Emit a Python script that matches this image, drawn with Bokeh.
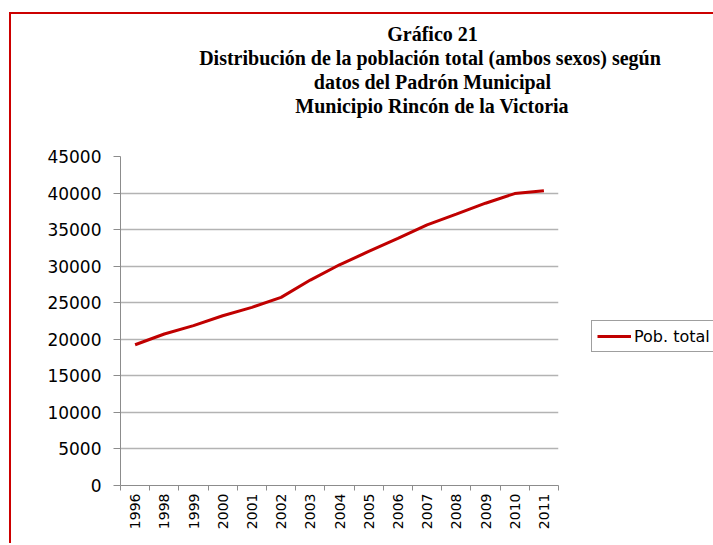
import numpy as np
from bokeh.plotting import figure
from bokeh.models import (Range1d, FixedTicker, Legend, LegendItem, Title, ColumnDataSource)
from bokeh.embed import file_html
from bokeh.resources import INLINE

years = ["1996", "1998", "1999", "2000", "2001", "2002", "2003", "2004",
         "2005", "2006", "2007", "2008", "2009", "2010", "2011"]
population = [19250, 20720, 21860, 23220, 24370, 25730, 28100, 30190,
              32010, 33790, 35650, 37110, 38610, 39930, 40300]
y_ticks = [0, 5000, 10000, 15000, 20000, 25000, 30000, 35000, 40000, 45000]
title_lines = ["Gráfico 21",
               "Distribución de la población total  (ambos sexos) según",
               "datos del Padrón Municipal",
               "Municipio Rincón de la Victoria"]
series_name = "Pob. total"

GRID = "#b3b3b3"
AXIS = "#8c8c8c"

# Times/Liberation Serif Bold advance widths (per 1000 em) for centering title lines
TB = {" ": 250, "(": 333, ")": 333, "1": 500, "2": 500, "D": 722, "G": 778, "M": 944,
      "P": 611, "R": 722, "V": 722, "a": 500, "á": 500, "b": 556, "c": 444, "d": 556,
      "e": 444, "f": 333, "g": 500, "i": 278, "l": 278, "m": 833, "n": 556, "o": 500,
      "ó": 500, "p": 556, "r": 444, "s": 389, "t": 333, "u": 556, "ú": 556, "x": 500}
TITLE_SIZE = 20
TITLE_CENTER = 312  # from frame left, px

n = len(years)
xs = [i + 0.5 for i in range(n)]
source = ColumnDataSource(dict(x=xs, y=population))

p = figure(frame_width=438, frame_height=329,
           min_border_left=109, min_border_top=142,
           min_border_right=153, min_border_bottom=58,
           output_backend="svg", toolbar_location=None,
           x_range=Range1d(0, n), y_range=Range1d(0, 45000))
p.styles = {"border-top": "2px solid #cc0000", "border-left": "2px solid #cc0000",
            "margin-top": "12px", "margin-left": "9px"}
p.outline_line_color = None
p.background_fill_color = "white"
p.border_fill_color = "white"

r = p.line("x", "y", source=source, line_color="#c00000", line_width=3)

# y axis
p.yaxis.ticker = FixedTicker(ticks=y_ticks)
p.yaxis.axis_line_color = AXIS
p.yaxis.major_tick_line_color = AXIS
p.yaxis.major_tick_in = 0
p.yaxis.major_tick_out = 7
p.yaxis.minor_tick_line_color = None
p.yaxis.major_label_text_font = "DejaVu Sans"
p.yaxis.major_label_text_font_size = "17px"
p.yaxis.major_label_text_color = "#000000"
p.yaxis.major_label_standoff = 12

# x axis
p.xaxis.ticker = FixedTicker(ticks=xs, minor_ticks=list(range(n + 1)))
p.xaxis.major_label_overrides = {x: y for x, y in zip(xs, years)}
p.xaxis.axis_line_color = AXIS
p.xaxis.major_tick_line_color = None
p.xaxis.minor_tick_line_color = AXIS
p.xaxis.minor_tick_in = 0
p.xaxis.minor_tick_out = 5
p.xaxis.major_tick_out = 5
p.xaxis.major_label_orientation = np.pi / 2
p.xaxis.major_label_text_font = "DejaVu Sans"
p.xaxis.major_label_text_font_size = "14px"
p.xaxis.major_label_text_color = "#000000"
p.xaxis.major_label_standoff = 3

p.xgrid.grid_line_color = None
p.ygrid.ticker = FixedTicker(ticks=y_ticks)
p.ygrid.grid_line_color = GRID
p.ygrid.grid_line_width = 1.5

# legend outside to the right
legend = Legend(items=[LegendItem(label=series_name, renderers=[r])],
                location=(33, 133), orientation="vertical",
                border_line_color="#404040", border_line_width=1,
                background_fill_color="white", background_fill_alpha=1,
                label_text_font="DejaVu Sans", label_text_font_size="16px",
                label_text_color="#000000",
                glyph_width=34, glyph_height=20, label_height=20,
                label_standoff=3, padding=5, margin=0, spacing=0)
p.add_layout(legend, "right")

# blank spacer between the title block and the plot area
p.add_layout(Title(text=" ", text_font_size="34px", standoff=0), "above")
# title lines, added bottom-up so the first line ends up on top
for txt in reversed(title_lines):
    w = sum(TB.get(ch, 500) for ch in txt) / 1000 * TITLE_SIZE
    p.add_layout(Title(text=txt, align="left", offset=TITLE_CENTER - w / 2,
                       text_font="Liberation Serif", text_font_style="bold",
                       text_font_size=f"{TITLE_SIZE}px", text_color="#000000",
                       standoff=0), "above")

open("out.html", "w").write(file_html(p, INLINE))
